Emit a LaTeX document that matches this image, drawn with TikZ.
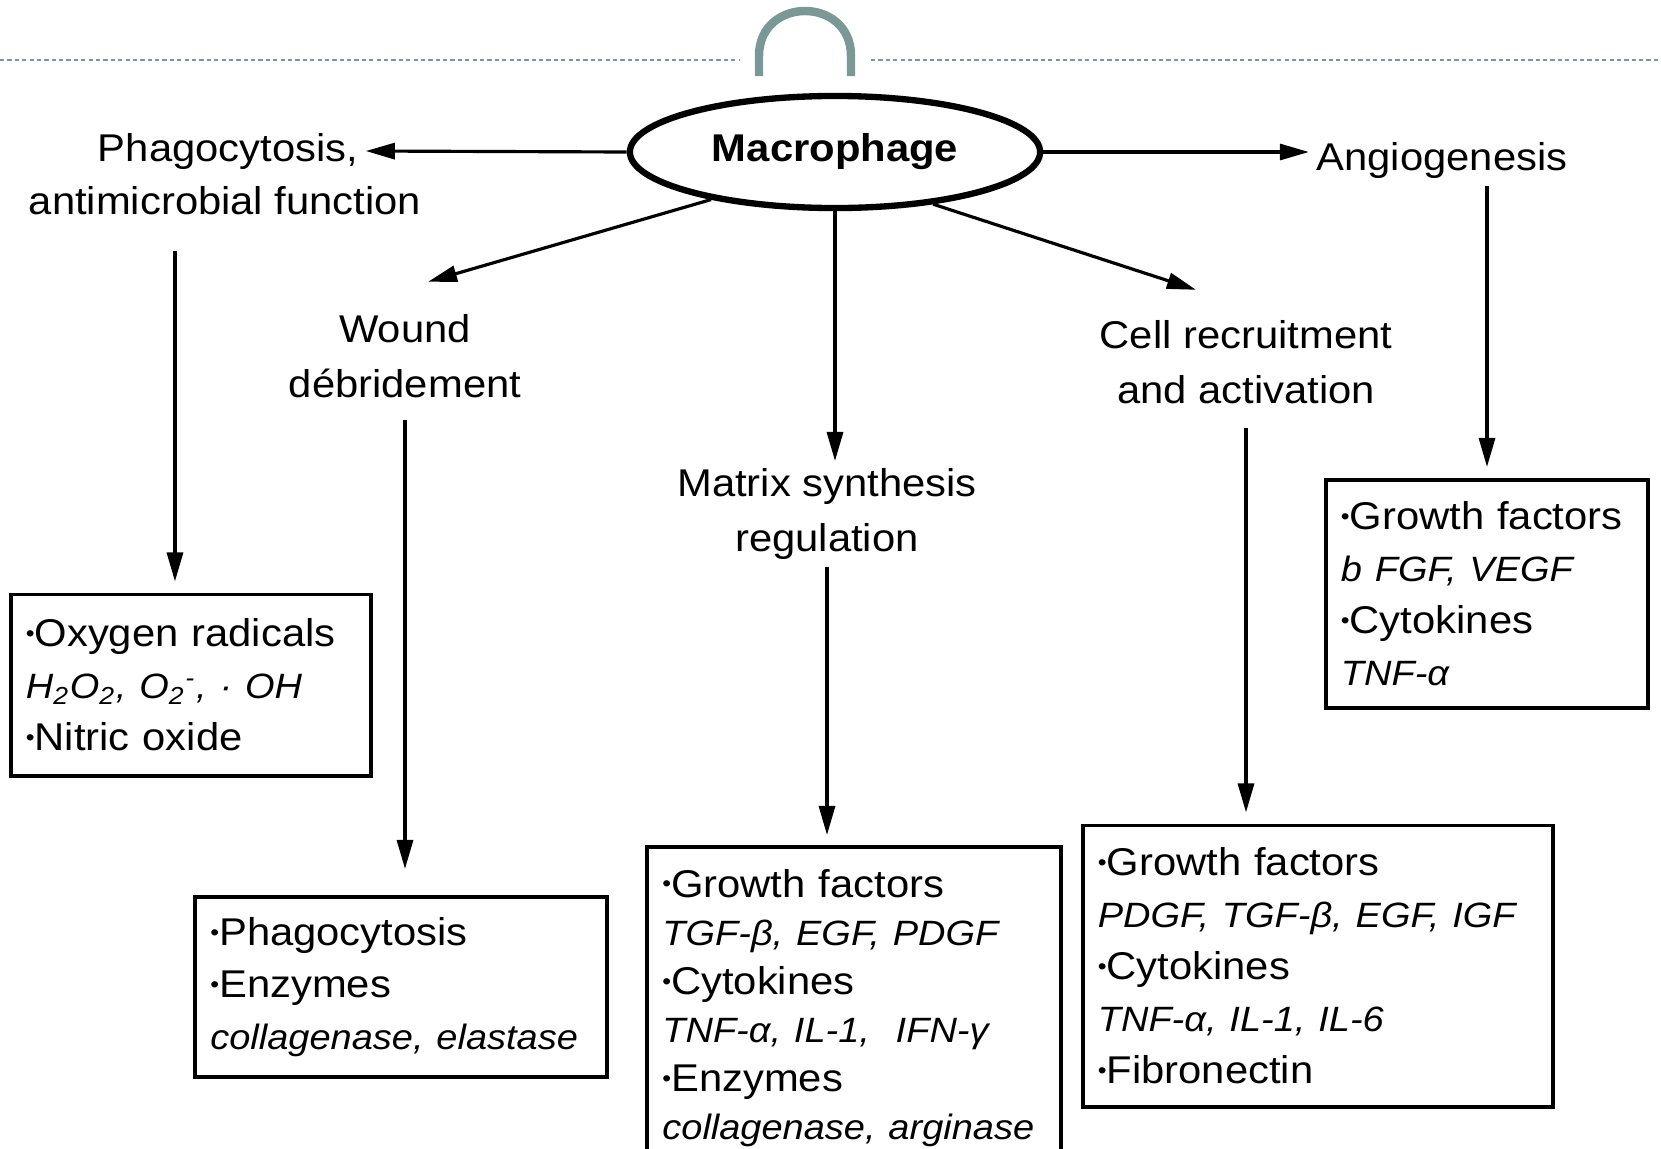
\documentclass[tikz,border=0pt]{standalone}
\usepackage{fontspec}
\setmainfont{Liberation Sans}[FakeStretch=1.08]
\usepackage{tikz}
\usetikzlibrary{arrows.meta,
                positioning,
                shapes}

\definecolor{slideteal}{RGB}{122,152,150}
\newcommand{\bul}{\raisebox{0.25ex}{\scalebox{0.6}{\textbullet}}}
\newcommand{\itl}[1]{{\fontsize{10}{14.8}\selectfont\itshape #1}}

\begin{document}
\begin{tikzpicture}[x=0.01cm, y=-0.01cm,
        lbl/.style={font=\fontsize{11}{15.5}\selectfont, align=center, inner sep=2pt},
        infobox/.style={draw, line width=1.1pt, align=left, inner xsep=1.5mm, outer sep=1.3mm,
                        font=\fontsize{11}{14.8}\selectfont},
        arr/.style={-{Triangle[length=2.9mm,width=1.6mm]}, line width=0.9pt}]
        \useasboundingbox (0,0) rectangle (1661,1148);
        \clip (0,0) rectangle (1661,1148);

        % slide decoration
        \draw[slideteal, line width=0.8pt, dash pattern=on 1.2pt off 0.9pt] (0,60) -- (739,60);
        \draw[slideteal, line width=0.8pt, dash pattern=on 1.2pt off 0.9pt] (871,60) -- (1661,60);
        \draw[slideteal, line width=2.4pt] (759,76) -- (759,56) .. controls (759,-4) and (851,-4) .. (851,56) -- (851,76);

        \node[draw, ellipse, line width=1.8pt, minimum width=4.1cm, minimum height=1.12cm, inner sep=0pt,
              font=\fontsize{11}{13}\selectfont\bfseries] (mac) at (835,152) {Macrophage};

        \node[lbl] (phagoA) at (228,151) {Phagocytosis,};
        \node[lbl] (phagoB) at (225,201) {antimicrobial function};
        \node[lbl] (wound) at (405,356) {Wound\\débridement};
        \node[lbl] (matrix) at (827,514) {Matrix synthesis\\regulation};
        \node[lbl] (cell) at (1246,362) {Cell recruitment\\and activation};
        \node[lbl] (angio) at (1442,160) {Angiogenesis};

        \node[infobox, text width=3.3cm, minimum height=1.81cm] (oxy) at (191,685)
            {\bul Oxygen radicals\\
             \itl{H\textsubscript{2}O\textsubscript{2}, O\textsubscript{2}\textsuperscript{-}, · OH}\\
             \bul Nitric oxide};
        \node[infobox, text width=3.81cm, minimum height=1.8cm] (phbox) at (401,987)
            {\bul Phagocytosis\\
             \bul Enzymes\\
             \itl{collagenase, elastase}};
        \node[infobox, text width=3.83cm, anchor=north, outer sep=0pt, inner ysep=2.2mm,
              font=\fontsize{11}{13.8}\selectfont] (mbox) at (854,847)
            {\bul Growth factors\\
             \itl{TGF-β, EGF, PDGF}\\
             \bul Cytokines\\
             \itl{TNF-α, IL-1,\ \ IFN-γ}\\
             \bul Enzymes\\
             \itl{collagenase, arginase}};
        \node[infobox, text width=4.4cm, minimum height=2.81cm] (cbox) at (1318,966)
            {\bul Growth factors\\
             \itl{PDGF, TGF-β, EGF, IGF}\\
             \bul Cytokines\\
             \itl{TNF-α, IL-1, IL-6}\\
             \bul Fibronectin};
        \node[infobox, text width=2.92cm, minimum height=2.28cm] (abox) at (1487,594)
            {\bul Growth factors\\
             \itl{b FGF, VEGF}\\
             \bul Cytokines\\
             \itl{TNF-α}};

        % from the macrophage
        \draw[arr] (mac.west) -- (phagoA.east);
        \draw[arr] (mac.east) -- (mac.east -| angio.west);
        \draw[arr] (mac.201) -- ([xshift=2.3mm,yshift=2.5mm]wound.north);
        \draw[arr] (mac.south) -- (mac.south |- matrix.north);
        \draw[arr] (mac.332) -- ([xshift=-5mm,yshift=2.3mm]cell.north);

        % down to the boxes
        \draw[arr] ([xshift=-5mm,yshift=-2.8mm]phagoB.south) -- ([xshift=-5mm]phagoB.south |- oxy.north);
        \draw[arr, shorten >=1.5mm] ([yshift=-1.5mm]wound.south) -- (wound.south |- phbox.north);
        \draw[arr, shorten >=1.2mm] (matrix.south) -- (matrix.south |- mbox.north);
        \draw[arr] ([yshift=-1.7mm]cell.south) -- (cell.south |- cbox.north);
        \draw[arr] (angio.south -| abox.north) -- (abox.north);
    \end{tikzpicture}
\end{document}
